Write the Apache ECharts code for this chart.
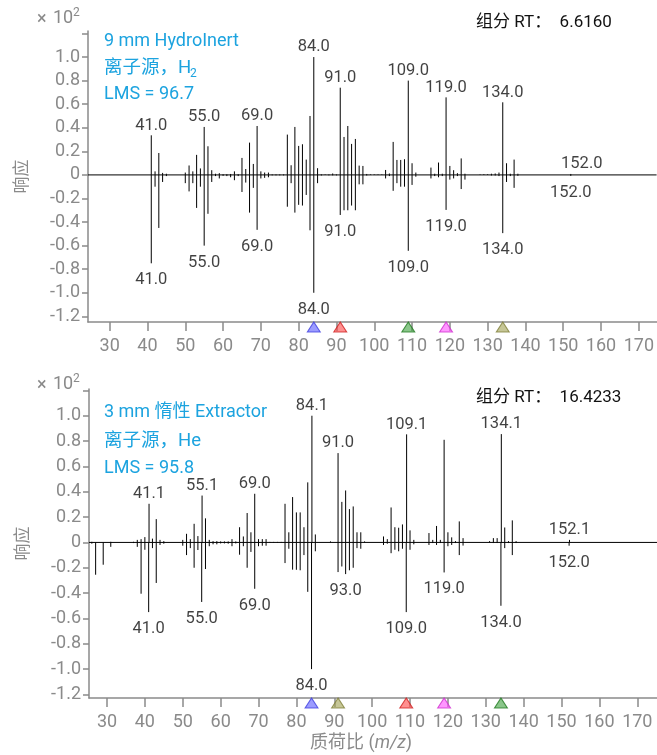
<!DOCTYPE html>
<html>
<head>
<meta charset="utf-8">
<script src="https://cdn.jsdelivr.net/npm/echarts@6/dist/echarts.min.js"></script>
<style>
  html, body { margin: 0; padding: 0; background: #fff; }
  #chart { width: 657px; height: 755px; }
</style>
</head>
<body>
<div id="chart"></div>
<script>
// Mirror mass spectra: measured spectrum points up, library spectrum points down.
// Intensities are in units of 10^2.

// 9 mm HydroInert, H2 source
const topUpper = [
  [41,0.336],[42,0.03],[43,0.186],[44,0.017],[45,0.01],
  [50,0.02],[51,0.08],[52,0.03],[53,0.17],[54,0.055],[55,0.407],[56,0.243],[57,0.04],[58,0.01],[59,0.015],
  [60,0.006],[61,0.006],[62,0.008],[63,0.03],[64,0.006],[65,0.144],[66,0.05],[67,0.274],[68,0.093],[69,0.415],
  [70,0.03],[71,0.02],[72,0.02],[73,0.004],[74,0.004],[75,0.004],[76,0.004],
  [77,0.342],[78,0.082],[79,0.407],[80,0.246],[81,0.26],[82,0.13],[83,0.5],[84,1.0],[85,0.057],[86,0.005],
  [87,0.004],[88,0.004],[89,0.012],[90,0.004],
  [91,0.74],[92,0.322],[93,0.415],[94,0.263],[95,0.305],[96,0.079],[97,0.076],[98,0.008],
  [99,0.004],[100,0.004],[101,0.004],[102,0.004],
  [103,0.042],[104,0.012],[105,0.28],[106,0.127],[107,0.127],[108,0.133],[109,0.8],[110,0.099],[111,0.02],
  [115,0.062],[116,0.01],[117,0.105],[118,0.01],[119,0.658],[120,0.076],[121,0.04],[122,0.015],[123,0.14],[124,0.01],
  [128,0.004],[129,0.006],[130,0.006],[131,0.01],[132,0.012],[133,0.02],
  [134,0.616],[135,0.099],[136,0.01],[137,0.13],[138,0.01],
  [152,0.008]
];
const topLower = [
  [41,-0.75],[42,-0.1],[43,-0.45],[44,-0.06],[45,-0.01],
  [50,-0.07],[51,-0.14],[52,-0.07],[53,-0.28],[54,-0.1],[55,-0.6],[56,-0.33],[57,-0.06],[58,-0.01],[59,-0.03],
  [60,-0.008],[61,-0.01],[62,-0.02],[63,-0.045],[64,-0.01],[65,-0.145],[66,-0.065],[67,-0.32],[68,-0.11],[69,-0.466],
  [70,-0.03],[71,-0.025],[72,-0.02],[73,-0.004],[74,-0.004],[75,-0.004],[76,-0.004],
  [77,-0.27],[78,-0.07],[79,-0.32],[80,-0.254],[81,-0.26],[82,-0.17],[83,-0.47],[84,-1.0],[85,-0.07],[86,-0.005],
  [88,-0.004],[89,-0.004],[90,-0.004],
  [91,-0.34],[92,-0.3],[93,-0.3],[94,-0.26],[95,-0.3],[96,-0.08],[97,-0.08],[98,-0.005],
  [103,-0.03],[104,-0.01],[105,-0.135],[106,-0.07],[107,-0.1],[108,-0.1],[109,-0.644],[110,-0.085],[111,-0.015],
  [115,-0.03],[116,-0.01],[117,-0.02],[118,-0.01],[119,-0.297],[120,-0.04],[121,-0.03],[122,-0.01],[123,-0.12],[124,-0.04],
  [131,-0.005],[132,-0.005],[133,-0.01],
  [134,-0.494],[135,-0.06],[136,-0.01],[137,-0.11],[138,-0.008],
  [152,-0.008]
];
const topUpperLabelMz = [41, 55, 69, 84, 91, 109, 119, 134, 152];
const topLowerLabelMz = [41, 55, 69, 84, 91, 109, 119, 134, 152];
const topMarkerMz = [84, 91, 109, 119, 134];

// 3 mm inert Extractor, He source
const bottomUpper = [
  [26,0.005],[31,0.005],[37,0.005],[38,0.02],[39,0.026],[40,0.042],[41.1,0.305],[42,0.03],[43,0.184],[44,0.02],[45,0.01],
  [50,0.02],[51,0.068],[52,0.026],[53,0.147],[54,0.05],[55.1,0.37],[56,0.19],[57,0.02],[58,0.01],[59,0.01],
  [60,0.008],[61,0.008],[62,0.008],[63,0.026],[64,0.008],[65,0.12],[66,0.047],[67,0.232],[68,0.08],[69,0.384],
  [70,0.026],[71,0.026],[72,0.026],[73,0.004],[74,0.004],[75,0.004],[76,0.004],
  [77,0.305],[78,0.08],[79,0.358],[80,0.237],[81,0.237],[82,0.12],[83,0.474],[84.1,1.0],[85,0.063],
  [89,0.008],
  [91,0.705],[92,0.32],[93,0.41],[94,0.263],[95,0.284],[96,0.08],[97,0.08],[98,0.008],
  [103,0.047],[104,0.026],[105,0.276],[106,0.12],[107,0.116],[108,0.142],[109.1,0.853],[110,0.095],[111,0.02],
  [115,0.074],[116,0.02],[117,0.13],[118,0.02],[119,0.81],[120,0.08],[121,0.04],[122,0.01],[123,0.166],[124,0.034],
  [131,0.01],[132,0.034],[133,0.034],
  [134.1,0.855],[135,0.118],[136,0.01],[137,0.174],[138,0.01],
  [152.1,0.02]
];
const bottomLower = [
  [26,-0.01],[27,-0.255],[29,-0.176],[31,-0.035],[37,-0.005],[38,-0.035],[39,-0.405],[40,-0.058],[41,-0.55],[42,-0.045],[43,-0.32],[44,-0.02],[45,-0.01],
  [50,-0.026],[51,-0.1],[52,-0.045],[53,-0.2],[54,-0.06],[55,-0.47],[56,-0.21],[57,-0.03],[58,-0.015],[59,-0.015],
  [60,-0.008],[61,-0.008],[62,-0.01],[63,-0.03],[64,-0.008],[65,-0.097],[66,-0.03],[67,-0.2],[68,-0.075],[69,-0.366],
  [70,-0.03],[71,-0.026],[72,-0.026],
  [77,-0.163],[78,-0.05],[79,-0.215],[80,-0.216],[81,-0.22],[82,-0.1],[83,-0.39],[84,-1.0],[85,-0.07],
  [91,-0.234],[92,-0.19],[93,-0.25],[94,-0.22],[95,-0.2],[96,-0.045],[97,-0.05],
  [103,-0.02],[104,-0.01],[105,-0.085],[106,-0.058],[107,-0.07],[108,-0.05],[109,-0.55],[110,-0.058],[111,-0.015],
  [115,-0.02],[116,-0.005],[117,-0.02],[118,-0.005],[119,-0.237],[120,-0.03],[121,-0.02],[122,-0.005],[123,-0.1],[124,-0.025],
  [132,-0.005],[133,-0.005],
  [134,-0.5],[135,-0.045],[136,-0.005],[137,-0.1],[138,-0.005],
  [152,-0.026]
];
const bottomUpperLabelMz = [41.1, 55.1, 69, 84.1, 91, 109.1, 134.1, 152.1];
const bottomLowerLabelMz = [41, 55, 69, 84, 93, 109, 119, 134, 152];
const bottomMarkerMz = [84, 91, 109, 119, 134];

// Axis ticks
const xTicks = [30, 40, 50, 60, 70, 80, 90, 100, 110, 120, 130, 140, 150, 160, 170];
const yTicks = [-1.2, -1.0, -0.8, -0.6, -0.4, -0.2, 0, 0.2, 0.4, 0.6, 0.8, 1.0, 1.2];
const yTickLabels = [-1.2, -1.0, -0.8, -0.6, -0.4, -0.2, 0, 0.2, 0.4, 0.6, 0.8, 1.0];

// Marker colours (fill, stroke)
const topMarkerColors = [['rgba(90,90,255,0.75)','#4040e0'],['rgba(255,70,70,0.75)','#d02020'],['rgba(60,160,60,0.75)','#207a20'],['rgba(255,80,255,0.75)','#d030d0'],['rgba(160,160,80,0.75)','#80803a']];
const bottomMarkerColors = [['rgba(90,90,255,0.75)','#4040e0'],['rgba(160,160,80,0.75)','#80803a'],['rgba(255,70,70,0.75)','#d02020'],['rgba(255,80,255,0.75)','#d030d0'],['rgba(60,160,60,0.75)','#207a20']];

const FONT = 'Roboto, "Noto Sans CJK SC", sans-serif';
const GRAY = '#8a8a8a';
const BLUE = '#1ca3df';

const panels = [
  { grid: { left: 88, top: 31, width: 569, height: 291 }, xMin: 24.26, xMax: 174.7, yMin: -1.248, yMax: 1.221,
    upper: topUpper, lower: topLower, upLab: topUpperLabelMz, lowLab: topLowerLabelMz,
    markers: topMarkerMz, markerColors: topMarkerColors, labelShift: { 152: [11, 0] } },
  { grid: { left: 89, top: 389, width: 568, height: 309 }, xMin: 25.25, xMax: 175.2, yMin: -1.228, yMax: 1.211,
    upper: bottomUpper, lower: bottomLower, upLab: bottomUpperLabelMz, lowLab: bottomLowerLabelMz,
    markers: bottomMarkerMz, markerColors: bottomMarkerColors, labelShift: {} }
];

function stickRender(params, api) {
  const x = api.value(0), y = api.value(1);
  const p0 = api.coord([x, 0]);
  const p1 = api.coord([x, y]);
  return { type: 'line', shape: { x1: p0[0], y1: p0[1], x2: p1[0], y2: p1[1] },
           style: { stroke: '#000', lineWidth: 1 } };
}

function lookup(list, mz) {
  const hit = list.find(d => Math.abs(d[0] - mz) < 1e-6);
  return hit ? hit[1] : 0;
}

const grids = [], xAxes = [], yAxes = [], series = [];
panels.forEach((p, i) => {
  grids.push(p.grid);
  xAxes.push({
    type: 'value', gridIndex: i, min: p.xMin, max: p.xMax,
    axisLine: { show: true, onZero: false, lineStyle: { color: GRAY, width: 1.5 } },
    axisTick: { show: true, length: 9, customValues: xTicks, lineStyle: { color: GRAY, width: 1.5 } },
    axisLabel: { customValues: xTicks, color: GRAY, fontSize: 18, fontFamily: FONT, margin: 16 },
    splitLine: { show: false }
  });
  yAxes.push({
    type: 'value', gridIndex: i, min: p.yMin, max: p.yMax,
    name: '响应', nameLocation: 'middle', nameGap: 57, nameRotate: 90,
    nameTextStyle: { color: GRAY, fontSize: 17, fontFamily: FONT },
    axisLine: { show: true, onZero: false, lineStyle: { color: GRAY, width: 1.5 } },
    axisTick: { show: true, length: 6, customValues: yTicks, lineStyle: { color: GRAY, width: 1.5 } },
    axisLabel: { customValues: yTickLabels, color: GRAY, fontSize: 18, fontFamily: FONT, margin: 8,
                 formatter: v => (Math.abs(v) < 1e-9 ? '0' : v.toFixed(1)) },
    splitLine: { show: false }
  });

  // zero baseline
  series.push({ type: 'line', xAxisIndex: i, yAxisIndex: i, data: [[p.xMin, 0], [p.xMax, 0]],
    symbol: 'none', silent: true, lineStyle: { color: '#000', width: 1 }, z: 1 });
  // spectra sticks
  series.push({ type: 'custom', xAxisIndex: i, yAxisIndex: i, renderItem: stickRender, data: p.upper, encode: { x: 0, y: 1 }, z: 2 });
  series.push({ type: 'custom', xAxisIndex: i, yAxisIndex: i, renderItem: stickRender, data: p.lower, encode: { x: 0, y: 1 }, z: 2 });
  // peak labels
  const labelStyle = { show: true, color: '#111', fontSize: 16.5, fontFamily: FONT,
                       formatter: d => d.value[0].toFixed(1) };
  series.push({ type: 'scatter', xAxisIndex: i, yAxisIndex: i, symbolSize: 1, itemStyle: { color: 'rgba(0,0,0,0)' },
    clip: false, z: 3,
    label: Object.assign({ position: 'top', distance: 1 }, labelStyle),
    data: p.upLab.map(mz => {
      const item = { value: [mz, lookup(p.upper, mz)] };
      const shift = p.labelShift[mz];
      if (shift) item.label = { offset: shift };
      return item;
    }) });
  series.push({ type: 'scatter', xAxisIndex: i, yAxisIndex: i, symbolSize: 1, itemStyle: { color: 'rgba(0,0,0,0)' },
    clip: false, z: 3,
    label: Object.assign({ position: 'bottom', distance: 8 }, labelStyle),
    data: p.lowLab.map(mz => ({ value: [mz, lookup(p.lower, mz)] })) });
  // triangle markers under the m/z axis
  series.push({ type: 'scatter', xAxisIndex: i, yAxisIndex: i, symbol: 'triangle', symbolSize: [13, 10],
    symbolOffset: [0, 5], clip: false, z: 4,
    data: p.markers.map((mz, k) => ({ value: [mz, p.yMin],
      itemStyle: { color: p.markerColors[k][0], borderColor: p.markerColors[k][1], borderWidth: 1 } })) });
});

function textEl(left, top, text, style) {
  return { type: 'text', left, top, style: Object.assign({ text, fontFamily: FONT }, style) };
}

const graphic = [
  // exponent marks
  textEl(37, 11, '×', { fill: GRAY, fontSize: 18 }),
  textEl(53, 10, '10', { fill: GRAY, fontSize: 18 }),
  textEl(73, 7, '2', { fill: GRAY, fontSize: 12 }),
  textEl(37, 377, '×', { fill: GRAY, fontSize: 18 }),
  textEl(53, 376, '10', { fill: GRAY, fontSize: 18 }),
  textEl(73, 373, '2', { fill: GRAY, fontSize: 12 }),
  // method notes
  textEl(104, 33, '9 mm HydroInert', { fill: BLUE, fontSize: 18 }),
  textEl(104, 59, '离子源，H', { fill: BLUE, fontSize: 18.5 }),
  textEl(190, 68, '2', { fill: BLUE, fontSize: 12 }),
  textEl(104, 86, 'LMS = 96.7', { fill: BLUE, fontSize: 18 }),
  textEl(104, 404, '3 mm 惰性 Extractor', { fill: BLUE, fontSize: 18 }),
  textEl(104, 432, '离子源，He', { fill: BLUE, fontSize: 18.5 }),
  textEl(104, 460, 'LMS = 95.8', { fill: BLUE, fontSize: 18 }),
  // retention times
  textEl(476, 14, '组分 RT：  6.6160', { fill: '#111', fontSize: 17 }),
  textEl(476, 389, '组分 RT：  16.4233', { fill: '#111', fontSize: 17 }),
  // x-axis title
  { type: 'text', left: 310, top: 735, style: {
      text: '{a|质荷比 (}{i|m/z}{a|)}', fontFamily: FONT,
      rich: { a: { fill: GRAY, fontSize: 18, fontFamily: FONT },
              i: { fill: GRAY, fontSize: 18, fontStyle: 'italic', fontFamily: FONT } } } }
];

const chart = echarts.init(document.getElementById('chart'), null, { renderer: 'canvas' });
chart.setOption({
  animation: false,
  backgroundColor: '#fff',
  textStyle: { fontFamily: FONT },
  grid: grids,
  xAxis: xAxes,
  yAxis: yAxes,
  series: series,
  graphic: graphic
});
</script>
</body>
</html>
